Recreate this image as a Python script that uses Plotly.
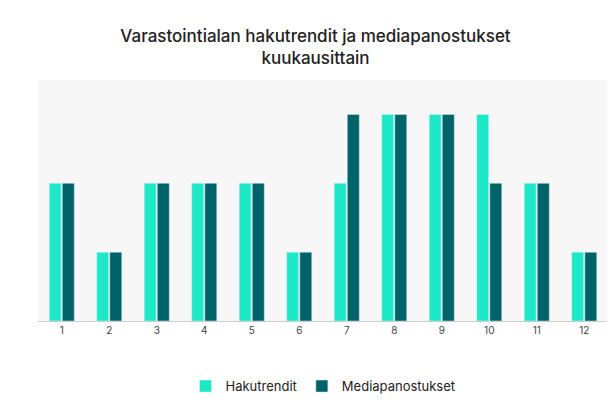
import plotly.graph_objects as go

months = [str(i) for i in range(1, 13)]
hakutrendit = [2, 1, 2, 2, 2, 1, 2, 3, 3, 3, 2, 1]
mediapanostukset = [2, 1, 2, 2, 2, 1, 3, 3, 3, 2, 2, 1]

fig = go.Figure()
fig.add_trace(go.Bar(x=months, y=hakutrendit, name="Hakutrendit", marker_color="#1de9c9"))
fig.add_trace(go.Bar(x=months, y=mediapanostukset, name="Mediapanostukset", marker_color="#00636a"))

fig.update_layout(
    width=615, height=400,
    font=dict(family="Inter, sans-serif", color="#222"),
    title=dict(text="Varastointialan hakutrendit ja mediapanostukset<br>kuukausittain",
               x=0.5, y=0.915, xanchor="center", yanchor="middle",
               font=dict(size=17, weight=500)),
    paper_bgcolor="white", plot_bgcolor="#f7f7f7",
    margin=dict(l=30, r=15, t=72, b=87, autoexpand=False),
    barmode="group", bargap=0.45, bargroupgap=0.08,
    showlegend=True,
    legend=dict(orientation="h", x=0.5, xanchor="center", y=-0.27, yanchor="middle",
                font=dict(size=13), itemwidth=30),
    xaxis=dict(showline=True, linecolor="#ccc", ticks="", tickfont=dict(size=10, color="#444")),
    yaxis=dict(visible=False, range=[0, 3.5]),
)

fig.write_html("out.html")
